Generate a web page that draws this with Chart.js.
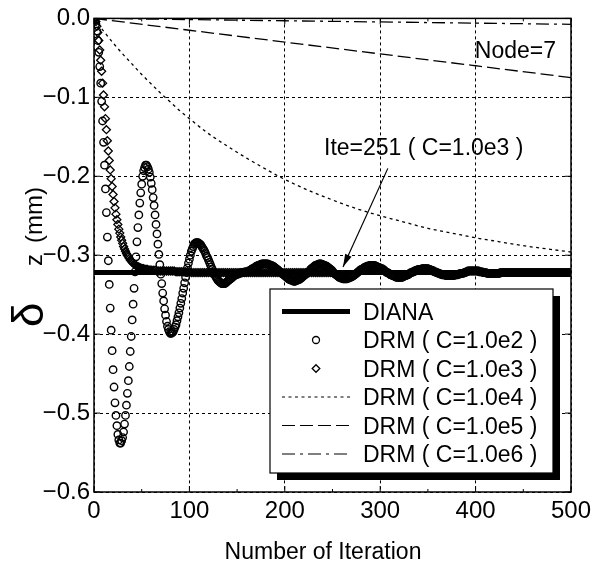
<!DOCTYPE html>
<html lang="en">
<head>
  <meta charset="UTF-8" />
  <title>DRM convergence, Node=7</title>
  <script src="https://cdn.jsdelivr.net/npm/chart.js"></script>
  <style>
    html, body { margin: 0; padding: 0; background: #fff; }
    canvas { display: block; }
  </style>
</head>
<body>
  <canvas id="chart" width="604" height="562"></canvas>

  <script>
    // ---- data ----
    const xTicks = [0, 100, 200, 300, 400, 500];
    const xMinorTicks = [50, 150, 250, 350, 450];
    const yTicks = [0, -0.1, -0.2, -0.3, -0.4, -0.5, -0.6];

    const dianaIter = [0, 500];
    const dianaVal = [-0.322, -0.322];

    // C=1.0e2, one value per iteration 0..135
    const c2Early = [
      0.000, -0.002, -0.007, -0.016, -0.028, -0.043, -0.061, -0.082, -0.105, -0.130,
      -0.157, -0.186, -0.216, -0.246, -0.277, -0.307, -0.337, -0.367, -0.395, -0.421,
      -0.445, -0.467, -0.487, -0.503, -0.516, -0.527, -0.534, -0.538, -0.538, -0.535,
      -0.531, -0.524, -0.514, -0.503, -0.490, -0.475, -0.459, -0.441, -0.422, -0.403,
      -0.382, -0.362, -0.342, -0.321, -0.302, -0.283, -0.265, -0.249, -0.234, -0.221,
      -0.210, -0.200, -0.193, -0.189, -0.186, -0.186, -0.188, -0.191, -0.195, -0.201,
      -0.209, -0.217, -0.227, -0.237, -0.249, -0.261, -0.273, -0.286, -0.299, -0.312,
      -0.324, -0.336, -0.348, -0.358, -0.368, -0.376, -0.384, -0.390, -0.394, -0.397,
      -0.399, -0.399, -0.398, -0.397, -0.394, -0.391, -0.388, -0.383, -0.378, -0.373,
      -0.367, -0.361, -0.355, -0.348, -0.342, -0.335, -0.328, -0.322, -0.316, -0.310,
      -0.305, -0.300, -0.295, -0.292, -0.289, -0.286, -0.285, -0.284, -0.284, -0.284,
      -0.285, -0.286, -0.287, -0.289, -0.291, -0.293, -0.295, -0.298, -0.301, -0.303,
      -0.306, -0.309, -0.312, -0.315, -0.318, -0.321, -0.323, -0.326, -0.328, -0.330,
      -0.332, -0.333, -0.334, -0.335, -0.336, -0.336
    ];
    // C=1.0e2, one value per iteration 136..500
    const c2Late = [
      -0.336, -0.336, -0.335, -0.334, -0.333, -0.332, -0.331, -0.330, -0.329, -0.328,
      -0.327, -0.326, -0.325, -0.325, -0.324, -0.324, -0.323, -0.323, -0.322, -0.322,
      -0.322, -0.322, -0.321, -0.321, -0.321, -0.321, -0.320, -0.320, -0.319, -0.318,
      -0.317, -0.317, -0.316, -0.315, -0.314, -0.314, -0.313, -0.313, -0.312, -0.312,
      -0.311, -0.311, -0.311, -0.311, -0.311, -0.311, -0.311, -0.312, -0.312, -0.313,
      -0.313, -0.314, -0.314, -0.315, -0.316, -0.317, -0.318, -0.319, -0.320, -0.321,
      -0.322, -0.323, -0.324, -0.325, -0.326, -0.327, -0.328, -0.329, -0.330, -0.331,
      -0.331, -0.332, -0.332, -0.333, -0.333, -0.333, -0.332, -0.332, -0.331, -0.331,
      -0.330, -0.329, -0.328, -0.327, -0.326, -0.325, -0.324, -0.323, -0.322, -0.321,
      -0.320, -0.318, -0.317, -0.316, -0.315, -0.314, -0.313, -0.313, -0.312, -0.312,
      -0.311, -0.311, -0.311, -0.312, -0.312, -0.313, -0.313, -0.314, -0.314, -0.315,
      -0.316, -0.317, -0.318, -0.319, -0.320, -0.322, -0.323, -0.324, -0.325, -0.326,
      -0.327, -0.328, -0.328, -0.329, -0.329, -0.330, -0.330, -0.330, -0.330, -0.330,
      -0.329, -0.329, -0.328, -0.328, -0.327, -0.327, -0.326, -0.325, -0.324, -0.323,
      -0.322, -0.321, -0.320, -0.319, -0.318, -0.318, -0.317, -0.316, -0.315, -0.315,
      -0.314, -0.314, -0.314, -0.313, -0.313, -0.313, -0.313, -0.313, -0.313, -0.314,
      -0.314, -0.315, -0.315, -0.316, -0.316, -0.317, -0.317, -0.318, -0.319, -0.320,
      -0.321, -0.322, -0.322, -0.323, -0.324, -0.325, -0.325, -0.326, -0.326, -0.327,
      -0.327, -0.328, -0.328, -0.328, -0.328, -0.328, -0.328, -0.328, -0.327, -0.327,
      -0.326, -0.326, -0.325, -0.325, -0.324, -0.323, -0.322, -0.322, -0.321, -0.321,
      -0.320, -0.320, -0.319, -0.319, -0.318, -0.318, -0.318, -0.318, -0.317, -0.317,
      -0.317, -0.317, -0.317, -0.317, -0.317, -0.318, -0.318, -0.319, -0.319, -0.320,
      -0.320, -0.321, -0.321, -0.322, -0.322, -0.323, -0.323, -0.324, -0.324, -0.325,
      -0.325, -0.325, -0.325, -0.326, -0.326, -0.326, -0.326, -0.326, -0.326, -0.326,
      -0.326, -0.326, -0.325, -0.325, -0.325, -0.325, -0.324, -0.324, -0.323, -0.323,
      -0.323, -0.323, -0.322, -0.322, -0.321, -0.321, -0.320, -0.320, -0.320, -0.320,
      -0.320, -0.320, -0.320, -0.320, -0.320, -0.320, -0.320, -0.320, -0.321, -0.321,
      -0.321, -0.321, -0.322, -0.322, -0.322, -0.322, -0.323, -0.323, -0.323, -0.323,
      -0.323, -0.323, -0.323, -0.323, -0.323, -0.323, -0.323, -0.323, -0.323, -0.323,
      -0.322, -0.322, -0.322, -0.322, -0.322, -0.322, -0.322, -0.322, -0.322, -0.322,
      -0.322, -0.322, -0.322, -0.322, -0.322, -0.322, -0.322, -0.322, -0.322, -0.322,
      -0.322, -0.322, -0.322, -0.322, -0.322, -0.322, -0.322, -0.322, -0.322, -0.322,
      -0.322, -0.322, -0.322, -0.322, -0.322, -0.322, -0.322, -0.322, -0.322, -0.322,
      -0.322, -0.322, -0.322, -0.322, -0.322, -0.322, -0.322, -0.322, -0.322, -0.322,
      -0.322, -0.322, -0.322, -0.322, -0.322, -0.322, -0.322, -0.322, -0.322, -0.322,
      -0.322, -0.322, -0.322, -0.322, -0.322, -0.322, -0.322, -0.322, -0.322, -0.322,
      -0.322, -0.322, -0.322, -0.322, -0.322
    ];

    // C=1.0e3, one value per iteration 0..60
    const c3Early = [
      0.000, -0.001, -0.004, -0.010, -0.018, -0.028, -0.040, -0.053, -0.067, -0.082,
      -0.097, -0.112, -0.127, -0.141, -0.155, -0.168, -0.180, -0.192, -0.203, -0.213,
      -0.223, -0.232, -0.240, -0.248, -0.255, -0.261, -0.267, -0.272, -0.277, -0.281,
      -0.285, -0.289, -0.292, -0.295, -0.298, -0.300, -0.302, -0.304, -0.306, -0.307,
      -0.309, -0.310, -0.311, -0.312, -0.313, -0.314, -0.315, -0.315, -0.316, -0.316,
      -0.317, -0.317, -0.317, -0.318, -0.318, -0.318, -0.318, -0.319, -0.319, -0.319,
      -0.319
    ];
    // C=1.0e3, every 2nd iteration 62..250 (converged at Ite=251)
    const c3Late = [
      -0.319, -0.319, -0.320, -0.320, -0.320, -0.320, -0.320, -0.320, -0.320, -0.320,
      -0.320, -0.320, -0.321, -0.321, -0.321, -0.321, -0.321, -0.321, -0.321, -0.321,
      -0.322, -0.322, -0.322, -0.322, -0.322, -0.322, -0.322, -0.322, -0.322, -0.322,
      -0.322, -0.322, -0.322, -0.322, -0.322, -0.322, -0.322, -0.322, -0.322, -0.322,
      -0.322, -0.322, -0.322, -0.322, -0.322, -0.322, -0.322, -0.322, -0.322, -0.322,
      -0.322, -0.322, -0.322, -0.322, -0.322, -0.322, -0.322, -0.322, -0.322, -0.322,
      -0.322, -0.322, -0.322, -0.322, -0.322, -0.322, -0.322, -0.322, -0.322, -0.322,
      -0.322, -0.322, -0.322, -0.322, -0.322, -0.322, -0.322, -0.322, -0.322, -0.322,
      -0.322, -0.322, -0.322, -0.322, -0.322, -0.322, -0.322, -0.322, -0.322, -0.322,
      -0.322, -0.322, -0.322, -0.322, -0.322
    ];

    const c4Iter = [0, 10, 20, 30, 40, 50, 60, 70, 80, 90, 100, 120, 140, 160, 180, 200,
                    225, 250, 275, 300, 325, 350, 375, 400, 425, 450, 475, 500];
    const c4Val = [0, -0.016, -0.031, -0.045, -0.058, -0.071, -0.083, -0.095, -0.106, -0.117,
                   -0.127, -0.146, -0.162, -0.177, -0.191, -0.204, -0.218, -0.230, -0.241,
                   -0.250, -0.258, -0.266, -0.272, -0.278, -0.283, -0.288, -0.292, -0.296];

    const c5Iter = [0, 100, 200, 300, 400, 500];
    const c5Val = [0, -0.015, -0.030, -0.045, -0.060, -0.075];

    const c6Iter = [0, 100, 200, 300, 400, 500];
    const c6Val = [0, -0.0015, -0.003, -0.0045, -0.006, -0.0075];

    const legendLabels = ["DIANA", "DRM ( C=1.0e2 )", "DRM ( C=1.0e3 )",
                          "DRM ( C=1.0e4 )", "DRM ( C=1.0e5 )", "DRM ( C=1.0e6 )"];
    const noteNode = "Node=7";
    const noteIte = "Ite=251 ( C=1.0e3 )";
    const xTitle = "Number of Iteration";

    // ---- build point lists ----
    const toPts = (xs, ys) => ys.map((v, i) => ({ x: xs[i], y: v }));
    const c2Val = c2Early.concat(c2Late);
    const c2Iter = c2Val.map((_, i) => i);
    const c3Iter = c3Early.map((_, i) => i).concat(c3Late.map((_, i) => 62 + 2 * i));

    const FONT = "'Liberation Sans', Arial, Helvetica, sans-serif";

    const frameAndNotes = {
      id: "frameAndNotes",
      afterDraw(chart) {
        const { ctx, chartArea: a, scales: { x, y } } = chart;
        ctx.save();
        ctx.strokeStyle = "#000";
        ctx.fillStyle = "#000";

        const seg = (x1, y1, x2, y2) => { ctx.beginPath(); ctx.moveTo(x1, y1); ctx.lineTo(x2, y2); ctx.stroke(); };

        // inner ticks
        ctx.lineWidth = 1;
        xTicks.forEach(v => {
          const p = x.getPixelForValue(v);
          seg(p, a.bottom, p, a.bottom - 6);
          seg(p, a.top, p, a.top + 6);
        });
        xMinorTicks.forEach(v => {
          const p = x.getPixelForValue(v);
          seg(p, a.bottom, p, a.bottom - 3);
          seg(p, a.top, p, a.top + 3);
        });
        yTicks.forEach(v => {
          const p = y.getPixelForValue(v);
          seg(a.left, p, a.left + 6, p);
          seg(a.right, p, a.right - 6, p);
        });

        // frame
        ctx.lineWidth = 1.5;
        ctx.strokeRect(a.left, a.top, a.right - a.left, a.bottom - a.top);

        // annotations
        ctx.font = "23px " + FONT;
        ctx.textBaseline = "alphabetic";
        ctx.textAlign = "right";
        ctx.fillText(noteNode, 556, 58);
        ctx.textAlign = "left";
        ctx.fillText(noteIte, 324, 155);

        // arrow
        const tx = x.getPixelForValue(308), ty = y.getPixelForValue(-0.19);
        const hx = x.getPixelForValue(261), hy = y.getPixelForValue(-0.315);
        ctx.lineWidth = 1.2;
        seg(tx, ty, hx, hy);
        const ang = Math.atan2(hy - ty, hx - tx);
        const L = 13, W = 3.5;
        ctx.beginPath();
        ctx.moveTo(hx, hy);
        ctx.lineTo(hx - L * Math.cos(ang) + W * Math.sin(ang), hy - L * Math.sin(ang) - W * Math.cos(ang));
        ctx.lineTo(hx - L * Math.cos(ang) - W * Math.sin(ang), hy - L * Math.sin(ang) + W * Math.cos(ang));
        ctx.closePath();
        ctx.fill();

        // legend with shadow
        const lx = 270, ly = 289, lw = 283, lh = 184;
        ctx.fillRect(lx + 7, ly + 7, lw, lh);
        ctx.fillStyle = "#fff";
        ctx.fillRect(lx, ly, lw, lh);
        ctx.fillStyle = "#000";
        ctx.lineWidth = 1.2;
        ctx.strokeRect(lx, ly, lw, lh);

        const rows = [311.5, 340, 368.5, 397, 425.5, 454];
        const sx1 = 282, sx2 = 350, sxc = 316;
        rows.forEach((ry, i) => {
          ctx.setLineDash([]);
          if (i === 0) {
            ctx.lineWidth = 5;
            seg(sx1, ry, sx2, ry);
          } else if (i === 1) {
            ctx.lineWidth = 1.3;
            ctx.beginPath(); ctx.arc(sxc, ry, 3.5, 0, Math.PI * 2); ctx.stroke();
          } else if (i === 2) {
            ctx.lineWidth = 1.3;
            ctx.beginPath();
            ctx.moveTo(sxc, ry - 3.8); ctx.lineTo(sxc + 3.8, ry);
            ctx.lineTo(sxc, ry + 3.8); ctx.lineTo(sxc - 3.8, ry);
            ctx.closePath(); ctx.stroke();
          } else {
            ctx.lineWidth = 1.2;
            ctx.setLineDash(i === 3 ? [3, 3.5] : i === 4 ? [13, 5] : [13, 5, 3, 5]);
            seg(sx1, ry, sx2, ry);
          }
          ctx.setLineDash([]);
          ctx.font = "23px " + FONT;
          ctx.textAlign = "left";
          ctx.fillText(legendLabels[i], 363, ry + 8.2);
        });

        // axis titles
        ctx.font = "23px " + FONT;
        ctx.textAlign = "center";
        ctx.fillText(xTitle, 323, 559);

        ctx.translate(43, 260);
        ctx.rotate(-Math.PI / 2);
        ctx.textAlign = "left";
        ctx.font = "44px " + FONT;
        ctx.fillText("\u03B4", -67, 0);
        ctx.font = "24px " + FONT;
        ctx.textAlign = "center";
        ctx.fillText("z", 0, -1);
        ctx.textAlign = "right";
        ctx.fillText("(mm)", 73, -1);

        ctx.restore();
      }
    };

    new Chart(document.getElementById("chart"), {
      type: "scatter",
      data: {
        datasets: [
          {
            label: legendLabels[1],
            data: toPts(c2Iter, c2Val),
            showLine: false,
            pointStyle: "circle",
            pointRadius: 3.7,
            pointBorderWidth: 1.4,
            borderColor: "#000",
            backgroundColor: "rgba(0,0,0,0)"
          },
          {
            label: legendLabels[2],
            data: toPts(c3Iter, c3Early.concat(c3Late)),
            showLine: false,
            pointStyle: "rectRot",
            pointRadius: 4,
            pointBorderWidth: 1.3,
            borderColor: "#000",
            backgroundColor: "rgba(0,0,0,0)"
          },
          {
            label: legendLabels[0],
            data: toPts(dianaIter, dianaVal),
            showLine: true,
            pointRadius: 0,
            borderWidth: 5,
            borderColor: "#000"
          },
          {
            label: legendLabels[3],
            data: toPts(c4Iter, c4Val),
            showLine: true,
            pointRadius: 0,
            borderWidth: 1.3,
            borderDash: [3, 3.5],
            borderColor: "#000",
            cubicInterpolationMode: "monotone"
          },
          {
            label: legendLabels[4],
            data: toPts(c5Iter, c5Val),
            showLine: true,
            pointRadius: 0,
            borderWidth: 1.3,
            borderDash: [13, 5],
            borderColor: "#000",
            cubicInterpolationMode: "monotone"
          },
          {
            label: legendLabels[5],
            data: toPts(c6Iter, c6Val),
            showLine: true,
            pointRadius: 0,
            borderWidth: 1.3,
            borderDash: [13, 5, 3, 5],
            borderColor: "#000"
          }
        ]
      },
      options: {
        responsive: false,
        animation: false,
        devicePixelRatio: 1,
        layout: { padding: { left: 0, right: 33, top: 18, bottom: 0 } },
        plugins: { legend: { display: false }, tooltip: { enabled: false } },
        scales: {
          x: {
            type: "linear",
            min: 0,
            max: 500,
            afterFit: s => { s.height = 70; },
            afterBuildTicks: s => { s.ticks = xTicks.map(v => ({ value: v })); },
            ticks: {
              color: "#000",
              font: { family: FONT, size: 24 },
              padding: 5,
              maxRotation: 0
            },
            grid: { color: "#000", lineWidth: 1, drawTicks: false },
            border: { display: false, dash: [3, 3] }
          },
          y: {
            type: "linear",
            min: -0.6,
            max: 0,
            afterFit: s => { s.width = 94; },
            afterBuildTicks: s => { s.ticks = yTicks.map(v => ({ value: v })); },
            ticks: {
              color: "#000",
              font: { family: FONT, size: 24 },
              padding: 4,
              callback: v => (Math.abs(v) < 1e-9 ? "0.0" : "\u2212" + Math.abs(v).toFixed(1))
            },
            grid: { color: "#000", lineWidth: 1, drawTicks: false },
            border: { display: false, dash: [3, 3] }
          }
        }
      },
      plugins: [frameAndNotes]
    });
  </script>
</body>
</html>
